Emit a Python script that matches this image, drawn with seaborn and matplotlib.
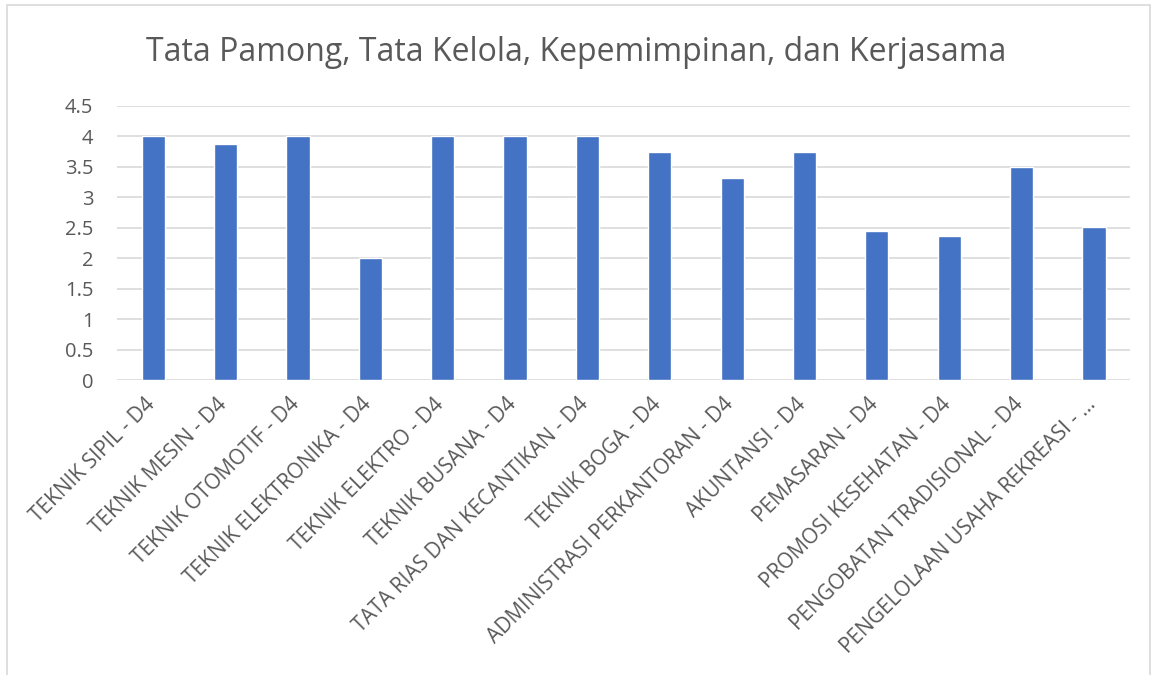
import matplotlib
matplotlib.use("Agg")
import matplotlib.pyplot as plt
import matplotlib.transforms as mtransforms
import seaborn as sns
import pandas as pd
from matplotlib.patches import Rectangle

categories = [
    "TEKNIK SIPIL - D4", "TEKNIK MESIN - D4", "TEKNIK OTOMOTIF - D4",
    "TEKNIK ELEKTRONIKA - D4", "TEKNIK ELEKTRO - D4", "TEKNIK BUSANA - D4",
    "TATA RIAS DAN KECANTIKAN - D4", "TEKNIK BOGA - D4",
    "ADMINISTRASI PERKANTORAN - D4", "AKUNTANSI - D4", "PEMASARAN - D4",
    "PROMOSI KESEHATAN - D4", "PENGOBATAN TRADISIONAL - D4",
    "PENGELOLAAN USAHA REKREASI - …",
]
values = [4.0, 3.875, 4.0, 2.0, 4.0, 4.0, 4.0, 3.75, 3.32, 3.75, 2.44, 2.37, 3.5, 2.52]
yticks = [0, 0.5, 1, 1.5, 2, 2.5, 3, 3.5, 4, 4.5]
ytick_labels = ["0", "0.5", "1", "1.5", "2", "2.5", "3", "3.5", "4", "4.5"]
title = "Tata Pamong, Tata Kelola, Kepemimpinan, dan Kerjasama"

sns.set_theme(style="white")
plt.rcParams["font.family"] = ["Open Sans", "DejaVu Sans"]

df = pd.DataFrame({"cat": categories, "val": values})

fig = plt.figure(figsize=(11.52, 6.75), dpi=100)
ax = fig.add_axes([0.1016, 0.437, 0.8794, 0.406])

sns.barplot(data=df, x="cat", y="val", color="#4472c4", width=0.32,
            saturation=1, ax=ax, zorder=3)

ax.set_ylim(0, 4.5)
ax.set_yticks(yticks)
ax.set_yticklabels(ytick_labels, fontsize=14.5, color="#595959")
ax.yaxis.grid(True, color="#d9d9d9", linewidth=1.2, zorder=0)
ax.set_axisbelow(True)
for s in ax.spines.values():
    s.set_visible(False)
ax.tick_params(axis="both", length=0)
ax.tick_params(axis="y", pad=17)
ax.set_xlabel("")
ax.set_ylabel("")
ax.set_xticks(range(len(categories)))
ax.set_xticklabels(categories, rotation=45, ha="right", rotation_mode="anchor",
                   fontsize=15, color="#595959")
ax.tick_params(axis="x", pad=10)
ax.set_xlim(-0.5, len(categories) - 0.5)

offset = mtransforms.ScaledTranslation(-9 / 100, 0, fig.dpi_scale_trans)
for lbl in ax.get_xticklabels():
    lbl.set_transform(lbl.get_transform() + offset)

fig.text(0.5, 0.922, title, ha="center", va="center", fontsize=23, color="#595959")

fig.patches.append(Rectangle((7 / 1152, -0.01), 1150 / 1152 - 7 / 1152, 1 - 5 / 675 + 0.01,
                             transform=fig.transFigure, fill=False,
                             edgecolor="#d9d9d9", linewidth=1.2))

fig.savefig("out.png", dpi=100, facecolor="white")
